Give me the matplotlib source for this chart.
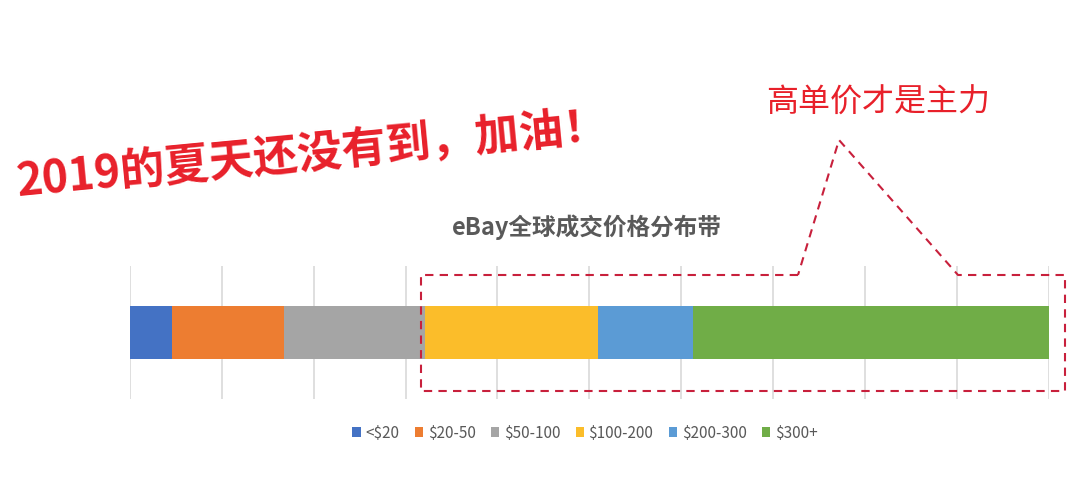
import matplotlib.pyplot as plt
from matplotlib.lines import Line2D

plt.rcParams['font.family'] = ['Noto Sans CJK SC', 'DejaVu Sans']

# 价格区间及占比（%）
categories = ["<$20", "$20-50", "$50-100", "$100-200", "$200-300", "$300+"]
shares = [4.6, 12.2, 15.3, 18.9, 10.3, 38.7]
colors = ["#4472C4", "#ED7D31", "#A5A5A5", "#FBBD2A", "#5B9BD5", "#70AD47"]

W, H = 1080, 479
fig = plt.figure(figsize=(W / 100, H / 100), dpi=100)
ax = fig.add_axes([130 / W, 1 - 399 / H, (1048.5 - 130) / W, (399 - 266) / H])

left = 0
for cat, val, col in zip(categories, shares, colors):
    ax.barh(0, val, left=left, height=0.4, color=col, label=cat, zorder=2)
    left += val

ax.set_xlim(0, 100)
ax.set_ylim(-0.5, 0.5)
ax.set_xticks(range(0, 101, 10))
ax.set_yticks([])
ax.xaxis.grid(True, color="#D9D9D9", linewidth=1.2, zorder=0)
ax.tick_params(axis="x", length=0, labelbottom=False)
for s in ax.spines.values():
    s.set_visible(False)

# 图例
fig.legend(loc="center", bbox_to_anchor=(585 / W, 1 - 433 / H), ncol=6,
           frameon=False, fontsize=11, handlelength=0.55, handleheight=0.55,
           handletextpad=0.3, columnspacing=1.0, labelcolor="#595959")

# 标题
fig.text(587 / W, 1 - 227 / H, "eBay全球成交价格分布带", ha="center", va="center",
         fontsize=17, fontweight="bold", color="#595959")

# 红色口号
fig.text(312 / W, 1 - 155 / H, "2019的夏天还没有到，加油！", ha="center", va="center",
         rotation=5.5, rotation_mode="anchor", fontsize=32, fontweight="bold",
         color="#E8202A")

# 标注框
px = [798, 421, 421, 1065, 1065, 958, 839, 798]
py = [275, 275, 391, 391, 275, 275, 140, 275]
fig.add_artist(Line2D([x / W for x in px], [1 - y / H for y in py],
                      transform=fig.transFigure, color="#C8203C",
                      linestyle=(0, (4, 3)), linewidth=1.5))
fig.text(878 / W, 1 - 103 / H, "高单价才是主力", ha="center", va="center",
         fontsize=23, color="#E8202A")

fig.savefig("out.png", dpi=100)
